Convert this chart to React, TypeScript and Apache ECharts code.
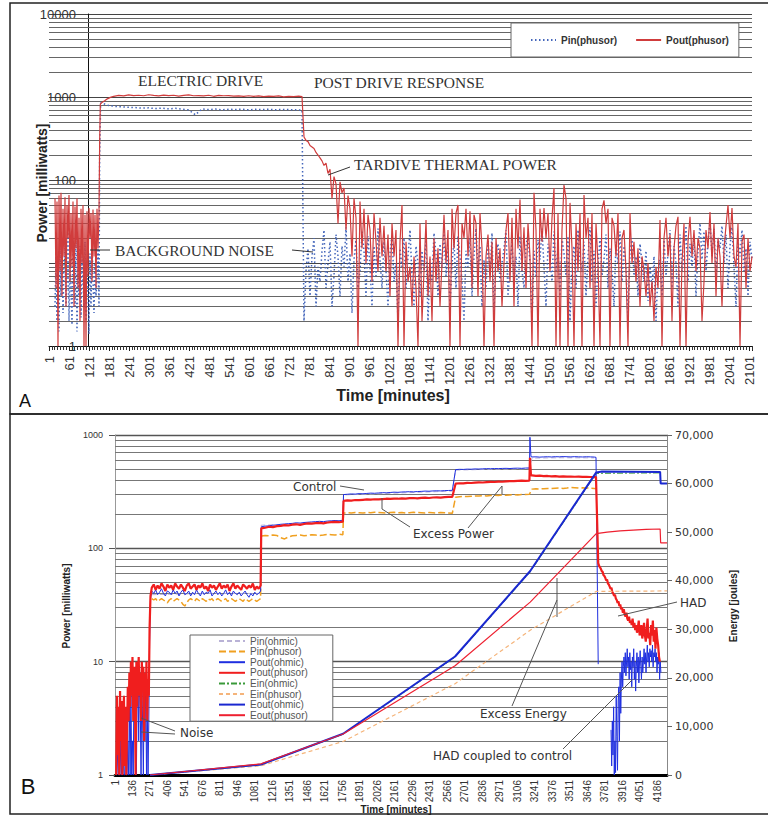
import React, { useEffect, useRef } from 'react';
import * as echarts from 'echarts';

// ================= Panel A : Pin / Pout (phusor), milliwatts vs minutes =================
const aNoiseStart = 19;
const aNoiseStep = 3;
const aPoutNoise = [60, 5, 55, 1, 65, 8, 70, 4, 45, 12, 62, 3, 50, 20, 66, 6, 40, 9, 55, 3, 48, 15, 60, 5, 35, 2, 45, 10, 50, 1, 38, 1, 42, 7, 46, 20, 40, 6, 44, 12, 38, 5, 45, 15, 40];
const aPinNoise = [3, 12, 2, 8, 1.5, 15, 4, 20, 2.5, 9, 18, 3, 6, 25, 2, 11, 5, 1.8, 14, 7, 3, 22, 1.5, 9, 4, 16, 2.2, 12, 6, 3, 18, 2, 8, 5, 1.4, 13, 3, 20, 6, 2.5, 10, 4, 7, 15, 3];
const aPoutRiseTime = [153, 155, 160, 168, 176, 185];
const aPoutRise = [300, 820, 860, 900, 950, 990];
const aPinRiseTime = [153, 156, 165];
const aPinRise = [200, 850, 830];
const aPoutDriveStart = 195;
const aPoutDriveStep = 15;
const aPoutDrive = [1020, 1045, 1030, 1060, 1040, 1050, 1035, 1065, 1045, 1030, 1055, 1040, 1050, 1025, 1045, 1060, 1035, 1040, 1030, 1050, 1020, 1045, 1035, 1040, 1025, 1030, 1015, 1035, 1020, 1030, 1010, 1025, 1015, 1030, 1005, 1020, 1010, 1025];
const aPoutDriveEndTime = [760];
const aPoutDriveEnd = [1010];
const aPinDriveStart = 180;
const aPinDriveStep = 20;
const aPinDrive = [790, 770, 760, 750, 745, 735, 740, 725, 735, 720, 730, 715, 700, 610, 720, 705, 715, 700, 712, 705, 715, 700, 710, 705, 712, 700, 710, 705, 700, 695];
const aPostStart = 766;
const aPostStep = 6;
const aPoutPost = [
  330, 300, 290, 260, 250, 240, 215, 200, 185, 170,
  150, 160, 120, 135, 60, 110, 90, 30, 95, 70,
  80, 25, 65, 45, 12, 60, 35, 1, 55, 15,
  45, 10, 38, 25, 6, 40, 18, 8, 35, 12,
  28, 8, 22, 4, 30, 12, 25, 1, 18, 50,
  1, 18, 6, 9, 3, 12, 5, 1, 30, 2,
  8, 33, 4, 12, 2, 20, 6, 15, 3, 10,
  38, 10, 25, 1, 45, 15, 40, 50, 1, 30,
  20, 45, 12, 42, 5, 38, 30, 4, 40, 15,
  1, 12, 22, 6, 18, 1, 20, 8, 15, 3,
  10, 25, 40, 6, 35, 3, 45, 15, 58, 8,
  27, 5, 30, 12, 1, 70, 25, 1, 45, 18,
  46, 20, 40, 8, 35, 80, 1, 40, 1, 25,
  87, 60, 1, 53, 15, 1, 30, 8, 40, 1,
  66, 20, 35, 5, 40, 1, 30, 10, 1, 45,
  57, 30, 45, 1, 35, 28, 12, 40, 1, 20,
  25, 8, 1, 40, 10, 18, 6, 15, 3, 12,
  8, 4, 10, 3, 6, 2, 9, 5, 33, 1,
  20, 35, 12, 22, 2, 15, 28, 36, 1, 10,
  30, 1, 18, 36, 12, 25, 8, 20, 15, 2,
  6, 25, 15, 41, 10, 30, 4, 20, 12, 3,
  15, 28, 50, 20, 46, 12, 9, 30, 1, 18,
  22, 5, 20, 8, 12,
];
const aPinPost = [
  2, 8, 15, 4, 12, 20, 3, 9, 6, 14,
  25, 5, 10, 18, 3, 7, 22, 12, 4, 16,
  9, 27, 6, 13, 2.5, 11, 19, 5, 8, 24,
  14, 4, 21, 9, 3, 16, 7, 26, 11, 5,
  18, 8, 3, 13, 22, 6, 10, 2, 15, 9,
  20, 5, 12, 25, 7, 3, 16, 10, 4, 14,
  8, 19, 2, 11, 6, 23, 13, 4, 17, 9,
  24, 7, 15, 3, 10, 18, 5, 21, 12, 6,
  2, 14, 9, 20, 4, 12, 26, 8, 16, 3,
  11, 5, 19, 7, 23, 2.5, 13, 17, 6, 10,
  15, 25, 4, 9, 18, 6, 12, 3, 21, 8,
  5, 16, 22, 10, 2, 14, 7, 19, 11, 26,
  9, 3, 17, 12, 6, 24, 8, 15, 4, 20,
  13, 7, 21, 2, 10, 16, 5, 25, 11, 8,
  18, 4, 12, 27, 6, 14, 3, 9, 20, 7,
  11, 22, 5, 15, 8, 3, 18, 10, 24, 6,
  16, 9, 2, 13, 20, 7, 12, 4, 17, 10,
  6, 14, 3.5, 9, 5, 12, 2, 8, 11, 4,
  19, 7, 13, 25, 5, 16, 10, 3, 22, 8,
  12, 28, 6, 17, 9, 21, 4, 14, 30, 11,
  24, 8, 18, 32, 12, 26, 7, 20, 15, 28,
  10, 22, 5, 16, 27, 9, 3, 19, 12, 25,
  8, 15, 4, 18, 11,
];

// ================= Panel B : ohmic control vs phusor, power (log) and energy =================
const bNoiseStart = 10;
const bNoiseStep = 6;
const bPoutPhNoise = [1, 5, 1.5, 4, 1, 5.5, 2, 4.5, 1, 3, 5, 1.2, 4, 1, 2.5, 6, 3, 8, 4, 10, 5, 11, 3, 9, 6, 1, 10, 4, 7, 11, 5, 8, 3, 10, 6, 9, 2, 8, 5, 10, 3, 7, 5];
const bPoutOhNoise = [1, 1, 1.6, 1, 1, 1, 2, 1, 1, 1.5, 1, 1, 3, 1, 1, 2, 1, 4, 1, 6, 1, 2, 1, 8, 3, 9, 1, 5, 8, 2, 9, 4, 1, 7, 3, 1, 6, 2, 8, 1, 4, 1, 3];
const bRiseTime = [268, 275];
const bPoutPhRise = [20, 38];
const bPoutOhRise = [15, 36];

const bP1Start = 285;
const bP1Step = 15;
const bPoutPh1 = [45, 48, 43, 47, 44, 49, 46, 42, 48, 45, 47, 43, 49, 46, 44, 48, 45, 42, 47, 49, 44, 46, 48, 43, 47, 45, 49, 44, 46, 42, 48, 45, 47, 43, 46, 49, 44, 47, 45, 48, 42, 46, 49, 44, 47, 45, 43, 48, 46, 44, 47, 45, 49, 43, 46, 44, 47];
const bPoutOh1 = [42, 40, 43, 39, 41, 44, 40, 38, 42, 41, 39, 43, 40, 42, 38, 41, 43, 39, 40, 42, 38, 41, 39, 43, 40, 38, 42, 39, 41, 40, 43, 38, 40, 42, 39, 41, 38, 40, 43, 39, 41, 38, 42, 40, 39, 41, 38, 40, 42, 39, 37, 40, 38, 41, 39, 40, 42];
const bPinPh1 = [36, 35, 36, 34, 35, 36, 35, 34, 33, 35, 36, 34, 35, 36, 35, 34, 32, 31, 33, 35, 36, 35, 34, 36, 35, 34, 36, 35, 34, 36, 35, 36, 34, 35, 36, 35, 34, 35, 36, 34, 35, 36, 35, 34, 35, 36, 35, 34, 36, 35, 34, 35, 36, 35, 34, 35, 36];

const bP2Start = 1130;
const bP2Step = 30;
const bPoutPh2 = [150, 152, 155, 154, 157, 158, 160, 159, 162, 163, 161, 164, 166, 165, 167, 168, 166, 169, 170, 171, 170, 172];
const bPoutOh2 = [155, 157, 158, 160, 161, 163, 164, 165, 166, 168, 167, 169, 170, 171, 172, 173, 172, 174, 175, 176, 175, 177];
const bPinPh2 = [128, 130, 129, 131, 130, 124, 121, 126, 129, 130, 131, 129, 130, 132, 131, 130, 131, 133, 132, 131, 133, 132];

const bP3Start = 1765;
const bP3Step = 30;
const bPoutPh3 = [262, 265, 264, 267, 266, 268, 270, 269, 271, 270, 272, 274, 273, 275, 274, 276, 275, 277, 278, 276, 279, 280, 278, 281, 282, 280, 283, 284, 285];
const bPoutOh3 = [298, 300, 302, 301, 304, 303, 305, 307, 306, 308, 310, 309, 311, 313, 312, 314, 315, 316, 315, 317, 318, 320, 319, 321, 322, 321, 323, 324, 325];
const bPinPh3 = [205, 206, 205, 207, 206, 205, 207, 206, 208, 207, 206, 205, 207, 208, 206, 207, 205, 206, 208, 207, 206, 205, 207, 206, 205, 207, 206, 205, 204];

const bP4Start = 2630;
const bP4Step = 30;
const bPoutPh4 = [372, 375, 374, 378, 377, 380, 382, 381, 384, 386, 385, 388, 387, 390, 392, 391, 393, 395, 394, 396];
const bPoutOh4 = [495, 498, 497, 500, 499, 502, 501, 503, 505, 504, 506, 505, 507, 508, 506, 509, 510, 508, 511, 512];
const bPinPh4 = [283, 285, 287, 286, 288, 290, 289, 291, 290, 292, 294, 293, 295, 294, 296, 297, 296, 298, 299, 300];

const bSpikeTime = [3204, 3212];
const bPoutPhSpike = [630, 440];
const bPoutOhSpike = [955, 645];

const bP5Start = 3220;
const bP5Step = 30;
const bPoutPh5 = [440, 436, 438, 434, 435, 432, 433, 430, 431, 429, 430, 428, 429, 427, 428, 426, 425];
const bPoutOh5 = [640, 642, 638, 641, 643, 640, 644, 642, 645, 643, 641, 644, 642, 640, 643, 641, 639];
const bPinPh5 = [333, 335, 334, 336, 338, 337, 339, 340, 338, 341, 345, 343, 340, 342, 341, 339, 338];
const bPinPhEndTime = [3712];
const bPinPhEnd = [335];

const bDropTime = [3714, 3731];
const bPoutPhDrop = [425, 74];
const bPoutOhDrop = [635, 9.5];

const bHadPhStart = 3738;
const bHadPhStep = 6.8;
const bHadPoutPh = [
  70, 68, 66, 63, 62, 58, 57, 55, 52, 53,
  49, 48, 46, 44, 45, 41, 40, 38, 39, 36,
  35, 33, 34, 31, 32, 29, 30, 27, 29, 26,
  25, 27, 24, 23, 25, 22, 23, 21, 24, 20,
  22, 19, 21, 18, 20, 23, 17, 19, 21, 16,
  18, 22, 17, 15, 19, 24, 16, 18, 14, 21,
  17, 23, 15, 19, 13, 20, 16, 14, 11, 10,
];
const bHadOhStart = 3830;
const bHadOhStep = 5;
const bHadPoutOh = [
  2.5, 1.2, 3, 1.5, 4, 1, 2, 1.05, 5, 2.2,
  1.1, 4.5, 6, 2, 8, 3.5, 7, 10, 6, 9,
  11, 8, 12, 7.5, 10, 13, 9, 11, 7, 12,
  8.5, 10, 6, 11, 9, 13, 7, 10, 5.5, 9,
  12, 8, 11, 6.5, 10, 12.5, 9, 7, 11, 8,
  10, 13, 9.5, 12, 8, 11, 14, 10, 12, 9,
  13, 11, 12.5, 10, 14, 9, 12, 11, 13, 10,
  12, 8, 11, 9.5, 12, 7, 10, 8,
];

const bPinOhTime = [285, 700, 1125, 1130, 1450, 1760, 1765, 2200, 2605, 2630, 2900, 3200, 3220, 3450, 3700];
const bPinOh = [39, 40, 40, 160, 165, 170, 296, 308, 320, 490, 498, 505, 625, 630, 628];

// energies (joules)
const bEoutOhTime = [271, 1128, 1762, 2626, 3206, 3716, 3760, 4209, 4213, 4262];
const bEoutOh = [0, 2150, 8500, 24400, 42000, 62300, 62500, 62400, 60000, 60000];
const bEoutPhTime = [271, 1128, 1762, 2626, 3206, 3716, 3800, 3900, 4000, 4100, 4209, 4213, 4262];
const bEoutPh = [0, 2300, 8450, 22500, 35600, 49700, 50000, 50250, 50400, 50550, 50650, 47800, 47800];
const bEinPhTime = [271, 1128, 1762, 2626, 3206, 3716, 4262];
const bEinPh = [0, 1900, 6900, 18800, 29800, 37800, 37900];
const bEinOhTime = [271, 1128, 1762, 2626, 3206, 3716, 4209];
const bEinOh = [0, 2120, 8420, 24250, 41800, 62100, 62200];

// ================= helpers =================
const seg = (start: number, step: number, vals: number[]) => vals.map((v, i) => [start + i * step, v]);
const pairs = (ts: number[], vs: number[]) => ts.map((t, i) => [t, vs[i]]);
const minorLines = (decades: number[]) => {
  const out: any[] = [];
  decades.forEach((d) => {
    for (let m = 2; m <= 9; m++) out.push({ yAxis: d * m });
  });
  return out;
};

const SANS = 'Liberation Sans, Arial, sans-serif';
const SERIF = 'Liberation Serif, Times New Roman, serif';
const VERD = 'DejaVu Sans, Verdana, sans-serif';

const txt = (text: string, x: number, y: number, o: any = {}) => ({
  type: 'text',
  x,
  y,
  rotation: o.rotation || 0,
  z: 50,
  silent: true,
  style: {
    text,
    fill: o.fill || '#333',
    fontSize: o.fontSize || 12,
    fontFamily: o.fontFamily || SANS,
    fontWeight: o.fontWeight || 'normal',
    align: o.align || 'left',
    textAlign: o.align || 'left',
    verticalAlign: 'middle',
    textVerticalAlign: 'middle',
  },
});
const ln = (pts: number[][], color = '#555', w = 1) => ({
  type: 'polyline',
  z: 50,
  silent: true,
  shape: { points: pts },
  style: { stroke: color, lineWidth: w, fill: 'none' },
});

function buildOption(): any {
  const markA = {
    silent: true,
    z: 1,
    symbol: ['none', 'none'],
    label: { show: false },
    lineStyle: { color: '#666', width: 1, type: 'solid' },
    emphasis: { disabled: true },
    data: minorLines([1, 10, 100, 1000]),
  };
  const markB = {
    silent: true,
    z: 1,
    symbol: ['none', 'none'],
    label: { show: false },
    lineStyle: { color: '#777', width: 1, type: 'solid' },
    emphasis: { disabled: true },
    data: minorLines([1, 10, 100]),
  };

  const aPin = [
    ...seg(aNoiseStart, aNoiseStep, aPinNoise),
    ...pairs(aPinRiseTime, aPinRise),
    ...seg(aPinDriveStart, aPinDriveStep, aPinDrive),
    ...seg(aPostStart, aPostStep, aPinPost),
  ];
  const aPout = [
    ...seg(aNoiseStart, aNoiseStep, aPoutNoise),
    ...pairs(aPoutRiseTime, aPoutRise),
    ...seg(aPoutDriveStart, aPoutDriveStep, aPoutDrive),
    ...pairs(aPoutDriveEndTime, aPoutDriveEnd),
    ...seg(aPostStart, aPostStep, aPoutPost),
  ];

  const bPoutPh = [
    ...seg(bNoiseStart, bNoiseStep, bPoutPhNoise),
    ...pairs(bRiseTime, bPoutPhRise),
    ...seg(bP1Start, bP1Step, bPoutPh1),
    ...seg(bP2Start, bP2Step, bPoutPh2),
    ...seg(bP3Start, bP3Step, bPoutPh3),
    ...seg(bP4Start, bP4Step, bPoutPh4),
    ...pairs(bSpikeTime, bPoutPhSpike),
    ...seg(bP5Start, bP5Step, bPoutPh5),
    ...pairs(bDropTime, bPoutPhDrop),
    ...seg(bHadPhStart, bHadPhStep, bHadPoutPh),
  ];
  const bPoutOh = [
    ...seg(bNoiseStart, bNoiseStep, bPoutOhNoise),
    ...pairs(bRiseTime, bPoutOhRise),
    ...seg(bP1Start, bP1Step, bPoutOh1),
    ...seg(bP2Start, bP2Step, bPoutOh2),
    ...seg(bP3Start, bP3Step, bPoutOh3),
    ...seg(bP4Start, bP4Step, bPoutOh4),
    ...pairs(bSpikeTime, bPoutOhSpike),
    ...seg(bP5Start, bP5Step, bPoutOh5),
    ...pairs(bDropTime, bPoutOhDrop),
    [3780, '-'],
    ...seg(bHadOhStart, bHadOhStep, bHadPoutOh),
  ];
  const bPinPh = [
    ...seg(bP1Start, bP1Step, bPinPh1),
    ...seg(bP2Start, bP2Step, bPinPh2),
    ...seg(bP3Start, bP3Step, bPinPh3),
    ...seg(bP4Start, bP4Step, bPinPh4),
    ...seg(bP5Start, bP5Step, bPinPh5),
    ...pairs(bPinPhEndTime, bPinPhEnd),
  ];

  const lineBase = { type: 'line', showSymbol: false, symbol: 'none', silent: true, emphasis: { disabled: true }, clip: true };

  return {
    animation: false,
    backgroundColor: '#fff',
    grid: [
      { left: 49, top: 14, width: 703, height: 332 },
      { left: 115, top: 435, width: 552, height: 340 },
    ],
    xAxis: [
      {
        type: 'value', gridIndex: 0, min: 1, max: 2110, interval: 60,
        axisLine: { show: true, lineStyle: { color: '#111', width: 1 } },
        axisTick: { show: true, length: 5, lineStyle: { color: '#222' } },
        minorTick: { show: true, splitNumber: 7, length: 4, lineStyle: { color: '#333' } },
        splitLine: { show: false },
        axisLabel: {
          rotate: 90, margin: 10, fontSize: 13, color: '#333', fontFamily: SANS,
          formatter: (v: number) => ((Math.round(v) - 1) % 60 === 0 ? String(Math.round(v)) : ''),
        },
      },
      {
        type: 'value', gridIndex: 1, min: 1, max: 4262, interval: 135,
        axisLine: { show: true, onZero: false, lineStyle: { color: '#000', width: 3 } },
        axisTick: { show: false },
        splitLine: { show: false },
        axisLabel: {
          rotate: 90, margin: 5, fontSize: 10, color: '#333', fontFamily: SANS,
          formatter: (v: number) => ((Math.round(v) - 1) % 135 === 0 ? String(Math.round(v)) : ''),
        },
      },
    ],
    yAxis: [
      {
        type: 'log', logBase: 10, gridIndex: 0, min: 1, max: 10000, splitNumber: 4, offset: -39,
        axisLine: { show: true, lineStyle: { color: '#111', width: 1 } },
        axisTick: { show: false },
        splitLine: { show: true, lineStyle: { color: '#444', width: 1.2 } },
        axisLabel: { margin: 12, fontSize: 13, color: '#333', fontFamily: SANS, formatter: (v: number) => String(Math.round(v)) },
      },
      {
        type: 'log', logBase: 10, gridIndex: 1, min: 1, max: 1000, splitNumber: 3, position: 'left',
        axisLine: { show: true, lineStyle: { color: '#999', width: 1 } },
        axisTick: { show: true, length: 6, lineStyle: { color: '#555' } },
        splitLine: { show: true, lineStyle: { color: '#555', width: 1.3 } },
        axisLabel: { margin: 12, fontSize: 9, color: '#333', fontFamily: SANS, formatter: (v: number) => String(Math.round(v)) },
      },
      {
        type: 'value', gridIndex: 1, min: 0, max: 70000, interval: 10000, position: 'right',
        axisLine: { show: true, lineStyle: { color: '#888', width: 1 } },
        axisTick: { show: true, length: 5, lineStyle: { color: '#666' } },
        splitLine: { show: false },
        axisLabel: { margin: 8, fontSize: 11, color: '#333', fontFamily: VERD, formatter: (v: number) => Math.round(v).toLocaleString('en-US') },
      },
    ],
    legend: [
      {
        data: ['A:Pin(phusor)', 'A:Pout(phusor)'],
        formatter: (n: string) => n.replace('A:', ''),
        orient: 'horizontal', left: 511, top: 23,
        padding: [12, 10, 12, 19], itemWidth: 25, itemHeight: 10, itemGap: 18,
        backgroundColor: '#fff', borderColor: '#666', borderWidth: 1,
        itemStyle: { opacity: 0 },
        textStyle: { fontSize: 10, fontWeight: 'bold', color: '#333', fontFamily: SANS },
        selectedMode: false,
      },
      {
        data: ['Pin(ohmic)', 'Pin(phusor)', 'Pout(ohmic)', 'Pout(phusor)', 'Ein(ohmic)', 'Ein(phusor)', 'Eout(ohmic)', 'Eout(phusor)'],
        orient: 'vertical', left: 190, top: 635,
        padding: [1, 25, 1, 28], itemWidth: 26, itemHeight: 8, itemGap: 0.6,
        backgroundColor: '#fff', borderColor: '#666', borderWidth: 1,
        itemStyle: { opacity: 0 },
        textStyle: { fontSize: 10, color: '#555', fontFamily: SANS, lineHeight: 10 },
        selectedMode: false,
      },
    ],
    series: [
      // Panel A
      {
        ...lineBase, name: 'A:Pin(phusor)', xAxisIndex: 0, yAxisIndex: 0,
        lineStyle: { color: '#4466bb', width: 1.5, type: [1.5, 2.5] }, itemStyle: { color: '#4466bb' },
        data: aPin,
      },
      {
        ...lineBase, name: 'A:Pout(phusor)', xAxisIndex: 0, yAxisIndex: 0,
        lineStyle: { color: '#d03c3c', width: 1.2 }, itemStyle: { color: '#d03c3c' },
        data: aPout, markLine: markA,
      },
      // Panel B - power
      {
        ...lineBase, name: 'Pin(ohmic)', xAxisIndex: 1, yAxisIndex: 1,
        lineStyle: { color: '#b9b2d6', width: 1, type: [5, 3] }, itemStyle: { color: '#b9b2d6' },
        data: pairs(bPinOhTime, bPinOh), markLine: markB,
      },
      {
        ...lineBase, name: 'Pin(phusor)', xAxisIndex: 1, yAxisIndex: 1,
        lineStyle: { color: '#f0a020', width: 1.5, type: [7, 3] }, itemStyle: { color: '#f0a020' },
        data: bPinPh,
      },
      {
        ...lineBase, name: 'Pout(ohmic)', xAxisIndex: 1, yAxisIndex: 1,
        lineStyle: { color: '#1f2fe0', width: 1 }, itemStyle: { color: '#1f2fe0' },
        data: bPoutOh,
      },
      {
        ...lineBase, name: 'Pout(phusor)', xAxisIndex: 1, yAxisIndex: 1,
        lineStyle: { color: '#f01e1e', width: 2.2 }, itemStyle: { color: '#f01e1e' },
        data: bPoutPh,
      },
      // Panel B - energy
      {
        ...lineBase, name: 'Ein(ohmic)', xAxisIndex: 1, yAxisIndex: 2,
        lineStyle: { color: '#3a9a3a', width: 1, type: [6, 2, 2, 2] }, itemStyle: { color: '#3a9a3a' },
        data: pairs(bEinOhTime, bEinOh),
      },
      {
        ...lineBase, name: 'Ein(phusor)', xAxisIndex: 1, yAxisIndex: 2,
        lineStyle: { color: '#f5b47a', width: 1.2, type: [4, 3] }, itemStyle: { color: '#f5b47a' },
        data: pairs(bEinPhTime, bEinPh),
      },
      {
        ...lineBase, name: 'Eout(ohmic)', xAxisIndex: 1, yAxisIndex: 2,
        lineStyle: { color: '#1a28d0', width: 2 }, itemStyle: { color: '#1a28d0' },
        data: pairs(bEoutOhTime, bEoutOh),
      },
      {
        ...lineBase, name: 'Eout(phusor)', xAxisIndex: 1, yAxisIndex: 2,
        lineStyle: { color: '#ee2030', width: 1.2 }, itemStyle: { color: '#ee2030' },
        data: pairs(bEoutPhTime, bEoutPh),
      },
    ],
    graphic: [
      { type: 'rect', silent: true, z: 60, shape: { x: 10, y: 3, width: 800, height: 411 }, style: { fill: 'none', stroke: '#222', lineWidth: 1.5 } },
      { type: 'rect', silent: true, z: 60, shape: { x: 10, y: 414, width: 800, height: 400 }, style: { fill: 'none', stroke: '#222', lineWidth: 1.5 } },
      // Panel A texts
      txt('A', 25, 401, { fontSize: 18, fill: '#111', align: 'center' }),
      txt('Power [milliwatts]', 42, 183, { rotation: Math.PI / 2, fontSize: 14, fontWeight: 'bold', fill: '#222', align: 'center' }),
      txt('Time [minutes]', 393, 395, { fontSize: 16, fontWeight: 'bold', fill: '#222', align: 'center' }),
      txt('ELECTRIC DRIVE', 138, 80, { fontSize: 15.5, fontFamily: SERIF }),
      txt('POST DRIVE RESPONSE', 314, 82, { fontSize: 15.5, fontFamily: SERIF }),
      txt('TARDIVE THERMAL POWER', 354, 164, { fontSize: 15.5, fontFamily: SERIF }),
      txt('BACKGROUND NOISE', 115, 250, { fontSize: 15.5, fontFamily: SERIF }),
      ln([[328, 175], [350, 167]], '#333'),
      ln([[90, 250], [110, 250]], '#333'),
      ln([[292, 250], [313, 252]], '#333'),
      // Panel B texts
      txt('B', 28, 786, { fontSize: 22, fill: '#111', align: 'center' }),
      txt('Power [milliwatts]', 66, 606, { rotation: Math.PI / 2, fontSize: 10, fontWeight: 'bold', fill: '#222', align: 'center' }),
      txt('Energy [joules]', 733, 606, { rotation: Math.PI / 2, fontSize: 10, fontWeight: 'bold', fill: '#222', align: 'center' }),
      txt('Time [minutes]', 396, 809, { fontSize: 10, fontWeight: 'bold', fill: '#222', align: 'center' }),
      txt('Control', 293, 487, { fontFamily: VERD, fontSize: 12 }),
      ln([[340, 486], [364, 490]]),
      txt('Excess Power', 413, 534, { fontFamily: VERD, fontSize: 12 }),
      ln([[382, 498], [382, 509], [410, 527]]),
      ln([[468, 528], [502, 486], [502, 494]]),
      txt('HAD', 680, 603, { fontFamily: VERD, fontSize: 12 }),
      ln([[677, 602], [618, 616]]),
      txt('Excess Energy', 480, 714, { fontFamily: VERD, fontSize: 12 }),
      ln([[512, 706], [557, 600]]),
      ln([[557, 578], [557, 617]]),
      txt('HAD coupled to control', 433, 756, { fontFamily: VERD, fontSize: 12 }),
      ln([[563, 749], [632, 680]]),
      txt('Noise', 180, 733, { fontFamily: VERD, fontSize: 12 }),
      ln([[175, 731], [141, 718]]),
      ln([[175, 734], [141, 732]]),
    ],
  };
}

export default function App() {
  const ref = useRef<HTMLDivElement>(null);
  useEffect(() => {
    if (!ref.current) return;
    const chart = echarts.init(ref.current, null, { renderer: 'svg' });
    chart.setOption(buildOption());
    return () => chart.dispose();
  }, []);
  return (
    <div
      ref={ref}
      style={{ position: 'absolute', left: 0, top: 0, width: 768, height: 816, background: '#fff' }}
    />
  );
}
